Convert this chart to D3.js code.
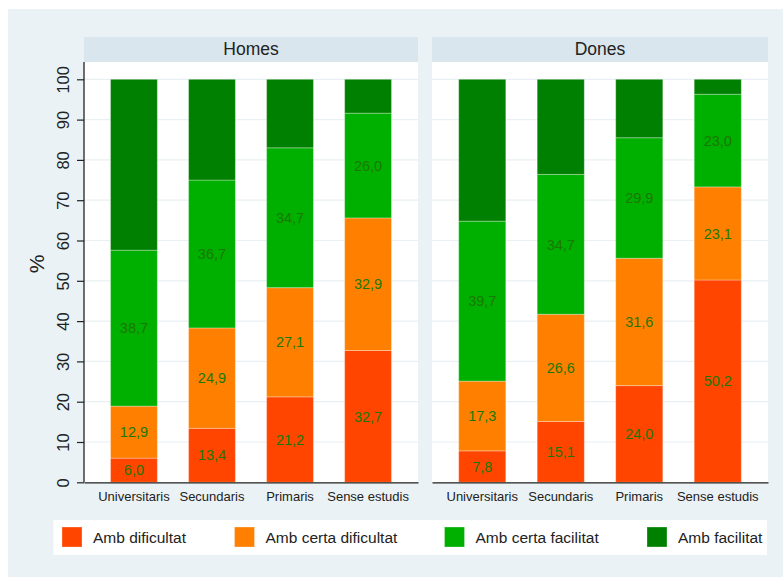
<!DOCTYPE html>
<html>
<head>
<meta charset="utf-8">
<script src="https://cdn.jsdelivr.net/npm/d3@7"></script>
<style>
  body { margin: 0; background: #fff; }
  svg { display: block; font-family: "Liberation Sans", Arial, sans-serif; }
</style>
</head>
<body>
<main></main>
<script>
// data
var categories = ['Universitaris', 'Secundaris', 'Primaris', 'Sense estudis'];
var panels = ['Homes', 'Dones'];
var seriesNames = ['Amb dificultat', 'Amb certa dificultat', 'Amb certa facilitat', 'Amb facilitat'];
var colors = ['#ff4500', '#ff8000', '#00b000', '#008000'];
var yTicks = [0, 10, 20, 30, 40, 50, 60, 70, 80, 90, 100];

var homesDificultat = [6.0, 13.4, 21.2, 32.7];
var homesCertaDificultat = [12.9, 24.9, 27.1, 32.9];
var homesCertaFacilitat = [38.7, 36.7, 34.7, 26.0];
var homesFacilitat = [42.4, 25.0, 17.0, 8.4];

var donesDificultat = [7.8, 15.1, 24.0, 50.2];
var donesCertaDificultat = [17.3, 26.6, 31.6, 23.1];
var donesCertaFacilitat = [39.7, 34.7, 29.9, 23.0];
var donesFacilitat = [35.2, 23.6, 14.5, 3.7];

// only these series get value labels
var labelled = ['Amb dificultat', 'Amb certa dificultat', 'Amb certa facilitat'];

var panelSeries = {
    Homes: [homesDificultat, homesCertaDificultat, homesCertaFacilitat, homesFacilitat],
    Dones: [donesDificultat, donesCertaDificultat, donesCertaFacilitat, donesFacilitat]
};

function tableFor(panel) {
    return categories.map(function (c, i) {
        var row = { cat: c };
        seriesNames.forEach(function (s, j) { row[s] = panelSeries[panel][j][i]; });
        return row;
    });
}

var W = 783, H = 577;
var svg = d3.select('main').append('svg')
    .attr('width', W)
    .attr('height', H);

// outer background
svg.append('rect')
    .attr('x', 8).attr('y', 9)
    .attr('width', W - 8).attr('height', H - 9)
    .attr('fill', '#eaf2f5');

var plotTop = 62, plotBottom = 482.3, headerTop = 37;
var panelX = { Homes: [84, 418], Dones: [432, 768] };

var y = d3.scaleLinear().domain([0, 100]).range([plotBottom, 79.3]);
var color = d3.scaleOrdinal().domain(seriesNames).range(colors);
var stack = d3.stack().keys(seriesNames);
var fmt = function (v) { return d3.format('.1f')(v).replace('.', ','); };

panels.forEach(function (p) {
    var x0 = panelX[p][0], x1 = panelX[p][1];
    var g = svg.append('g');

    // header strip
    g.append('rect')
        .attr('x', x0).attr('y', headerTop)
        .attr('width', x1 - x0).attr('height', plotTop - headerTop)
        .attr('fill', '#d9e6ed');
    g.append('text')
        .attr('x', (x0 + x1) / 2).attr('y', 55)
        .attr('text-anchor', 'middle')
        .attr('font-size', 17.5)
        .attr('fill', '#222')
        .text(p);

    // plot area
    g.append('rect')
        .attr('x', x0).attr('y', plotTop)
        .attr('width', x1 - x0).attr('height', plotBottom - plotTop)
        .attr('fill', '#fff');

    // gridlines
    g.selectAll('.grid')
        .data(yTicks.slice(1))
        .enter().append('line')
        .attr('x1', x0).attr('x2', x1)
        .attr('y1', function (d) { return y(d); })
        .attr('y2', function (d) { return y(d); })
        .attr('stroke', '#e9f0f3')
        .attr('stroke-width', 1.2);

    var x = d3.scaleBand()
        .domain(categories)
        .range([x0, x1])
        .paddingInner(0.4)
        .paddingOuter(0.34);

    var stacked = stack(tableFor(p));

    var layers = g.selectAll('.layer')
        .data(stacked)
        .enter().append('g')
        .attr('fill', function (d) { return color(d.key); });

    layers.selectAll('rect')
        .data(function (d) { return d; })
        .enter().append('rect')
        .attr('x', function (d) { return x(d.data.cat); })
        .attr('y', function (d) { return y(d[1]); })
        .attr('width', x.bandwidth())
        .attr('height', function (d) { return y(d[0]) - y(d[1]); })
        .attr('stroke', 'rgba(255,255,255,0.3)')
        .attr('stroke-width', 1);

    // value labels in the middle of each segment
    layers.filter(function (d) { return labelled.indexOf(d.key) >= 0; })
        .selectAll('text')
        .data(function (d) { return d; })
        .enter().append('text')
        .attr('x', function (d) { return x(d.data.cat) + x.bandwidth() / 2; })
        .attr('y', function (d) { return y((d[0] + d[1]) / 2) + 5.2; })
        .attr('text-anchor', 'middle')
        .attr('font-size', 14.5)
        .attr('fill', '#1a7800')
        .text(function (d) { return fmt(d[1] - d[0]); });

    // x axis
    var xAxis = g.append('g')
        .attr('transform', 'translate(0,' + plotBottom + ')')
        .call(d3.axisBottom(x).tickSize(0).tickPadding(0));
    xAxis.select('.domain').attr('stroke', '#222').attr('stroke-width', 1.3);
    xAxis.selectAll('text')
        .attr('font-family', null)
        .attr('font-size', 13)
        .attr('fill', '#222')
        .attr('dy', null)
        .attr('y', 18.5);
});

// y axis on the left panel only
var yAxis = svg.append('g')
    .attr('transform', 'translate(84,0)')
    .call(d3.axisLeft(y).tickValues(yTicks).tickSize(7).tickPadding(0));
yAxis.select('.domain')
    .attr('d', 'M0,' + plotTop + 'V' + plotBottom)
    .attr('stroke', '#222').attr('stroke-width', 1.3);
yAxis.selectAll('.tick line').attr('stroke', '#222').attr('stroke-width', 1.2);
yAxis.selectAll('.tick text')
    .attr('font-family', null)
    .attr('font-size', 16.5)
    .attr('fill', '#222')
    .attr('text-anchor', 'middle')
    .attr('dy', null)
    .attr('x', null)
    .attr('transform', 'translate(-15,0) rotate(-90)');

svg.append('text')
    .attr('transform', 'translate(43.5,264) rotate(-90)')
    .attr('text-anchor', 'middle')
    .attr('font-size', 21)
    .attr('fill', '#222')
    .text('%');

// legend
var legend = svg.append('g');
legend.append('rect')
    .attr('x', 53.5).attr('y', 520)
    .attr('width', 713.5).attr('height', 35)
    .attr('fill', '#fff');
var legendX = [62, 234.5, 444.5, 647];
var items = legend.selectAll('.item')
    .data(seriesNames)
    .enter().append('g')
    .attr('transform', function (d, i) { return 'translate(' + legendX[i] + ',527)'; });
items.append('rect')
    .attr('width', 20).attr('height', 20)
    .attr('fill', function (d) { return color(d); })
    .attr('stroke', 'rgba(255,255,255,0.3)');
items.append('text')
    .attr('x', 31).attr('y', 16)
    .attr('font-size', 15.5)
    .attr('fill', '#222')
    .text(function (d) { return d; });
</script>
</body>
</html>
